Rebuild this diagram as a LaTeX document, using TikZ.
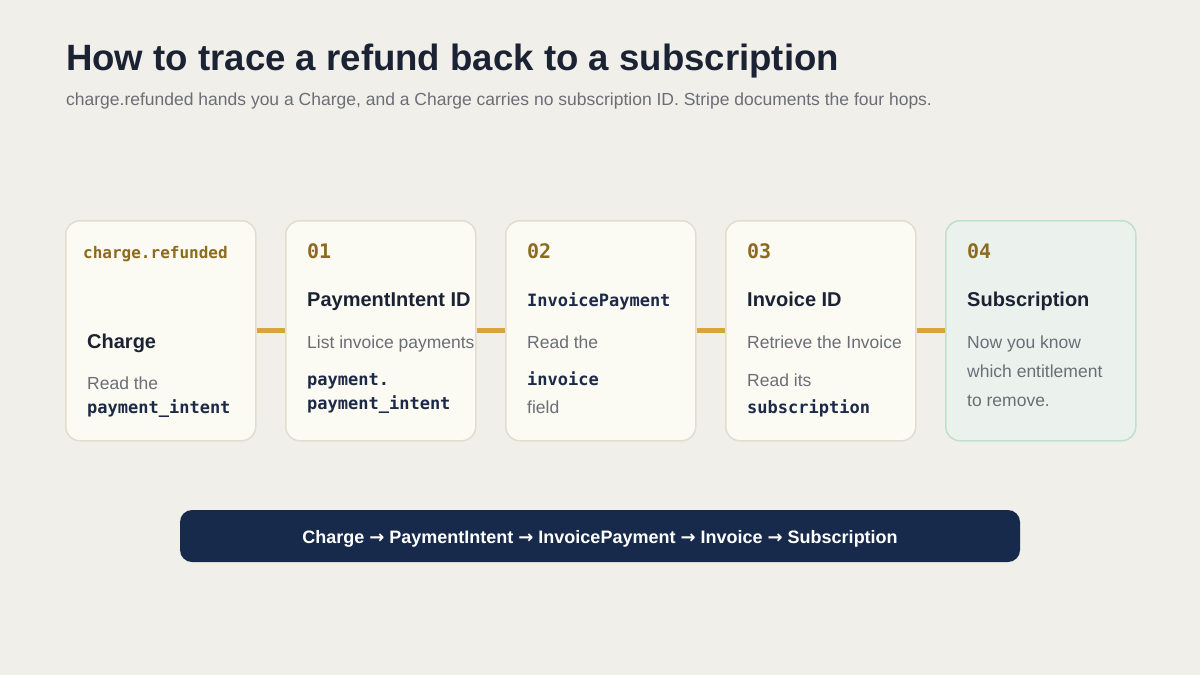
\documentclass[tikz,border=0pt]{standalone}
\usepackage{fontspec}
\setmainfont{Liberation Sans}
\newfontfamily\monof{DejaVu Sans Mono}
\newfontfamily\arrowf{DejaVu Sans}
\definecolor{bg}{HTML}{F0EFEA}
\definecolor{cardfill}{HTML}{FBFAF3}
\definecolor{cardline}{HTML}{E1DECF}
\definecolor{greenfill}{HTML}{EBF2EE}
\definecolor{greenline}{HTML}{BFE0CD}
\definecolor{titlec}{HTML}{1A2233}
\definecolor{grayc}{HTML}{6B6E75}
\definecolor{navyc}{HTML}{1C2A48}
\definecolor{goldc}{HTML}{8C6A1E}
\definecolor{connc}{HTML}{D4A63C}
\definecolor{barc}{HTML}{172A4B}
\tikzset{
  card/.style={draw=cardline, fill=cardfill, line width=1.5pt, rounded corners=14pt,
    minimum width=190pt, minimum height=220pt, anchor=north west, inner sep=0pt},
  endcard/.style={card, draw=greenline, fill=greenfill},
  conn/.style={draw=connc, line width=5pt},
  txt/.style={anchor=base west, inner sep=0pt},
  tagtxt/.style={txt, text=goldc, font=\monof\bfseries\fontsize{20}{24}\selectfont},
  evtxt/.style={txt, text=goldc, font=\monof\bfseries\fontsize{16}{20}\selectfont},
  headtxt/.style={txt, text=titlec, font=\bfseries\fontsize{20}{24}\selectfont},
  bodytxt/.style={txt, text=grayc, font=\fontsize{17.5}{21}\selectfont},
  codetxt/.style={txt, text=navyc, font=\monof\bfseries\fontsize{17}{21}\selectfont},
}
\begin{document}
\begin{tikzpicture}[x=1pt,y=-1pt]
\fill[bg] (0,0) rectangle (1200,675);
\useasboundingbox (0,0) rectangle (1200,675);

\node[txt, text=titlec, font=\bfseries\fontsize{36.6}{44}\selectfont] (title) at (66,70) {How to trace a refund back to a subscription};
\node[txt, text=grayc, font=\fontsize{17.5}{20}\selectfont] (sub) at (66,105) {charge.refunded hands you a Charge, and a Charge carries no subscription ID. Stripe documents the four hops.};

\node[card] (c0) at (65,220) {};
\node[card] (c1) at (285,220) {};
\node[card] (c2) at (505,220) {};
\node[card] (c3) at (725,220) {};
\node[endcard] (c4) at (945,220) {};

\draw[conn] (c0.east) -- (c1.west);
\draw[conn] (c1.east) -- (c2.west);
\draw[conn] (c2.east) -- (c3.west);
\draw[conn] (c3.east) -- (c4.west);

% card 0
\node[evtxt] (t0) at (83,258) {charge.refunded};
\node[headtxt] (h0) at (87,348) {Charge};
\node[bodytxt] (b0) at (87,389) {Read the};
\node[codetxt] (k0) at (87,413) {payment\_intent};

% card 1
\node[tagtxt] (t1) at (307,258) {01};
\node[headtxt] (h1) at (307,306) {PaymentIntent ID};
\node[bodytxt] (b1) at (307,348) {List invoice payments};
\node[codetxt] (k1a) at (307,385) {payment.};
\node[codetxt] (k1b) at (307,409) {payment\_intent};

% card 2
\node[tagtxt] (t2) at (527,258) {02};
\node[codetxt] (h2) at (527,306) {InvoicePayment};
\node[bodytxt] (b2) at (527,348) {Read the};
\node[codetxt] (k2) at (527,385) {invoice};
\node[bodytxt] (f2) at (527,413) {field};

% card 3
\node[tagtxt] (t3) at (747,258) {03};
\node[headtxt] (h3) at (747,306) {Invoice ID};
\node[bodytxt] (b3) at (747,348) {Retrieve the Invoice};
\node[bodytxt] (r3) at (747,386) {Read its};
\node[codetxt] (k3) at (747,413) {subscription};

% card 4
\node[tagtxt] (t4) at (967,258) {04};
\node[headtxt] (h4) at (967,306) {Subscription};
\node[bodytxt] (b4a) at (967,348) {Now you know};
\node[bodytxt] (b4b) at (967,377) {which entitlement};
\node[bodytxt] (b4c) at (967,406) {to remove.};

% bar
\node[fill=barc, rounded corners=12pt, minimum width=840pt, minimum height=52pt, inner sep=0pt] (bar) at (600,536) {};
\node[anchor=base, inner sep=0pt, text=white, font=\bfseries\fontsize{18}{22}\selectfont] (bartxt) at (600,543)
  {Charge {\arrowf\bfseries →} PaymentIntent {\arrowf\bfseries →} InvoicePayment {\arrowf\bfseries →} Invoice {\arrowf\bfseries →} Subscription};
\end{tikzpicture}
\end{document}
